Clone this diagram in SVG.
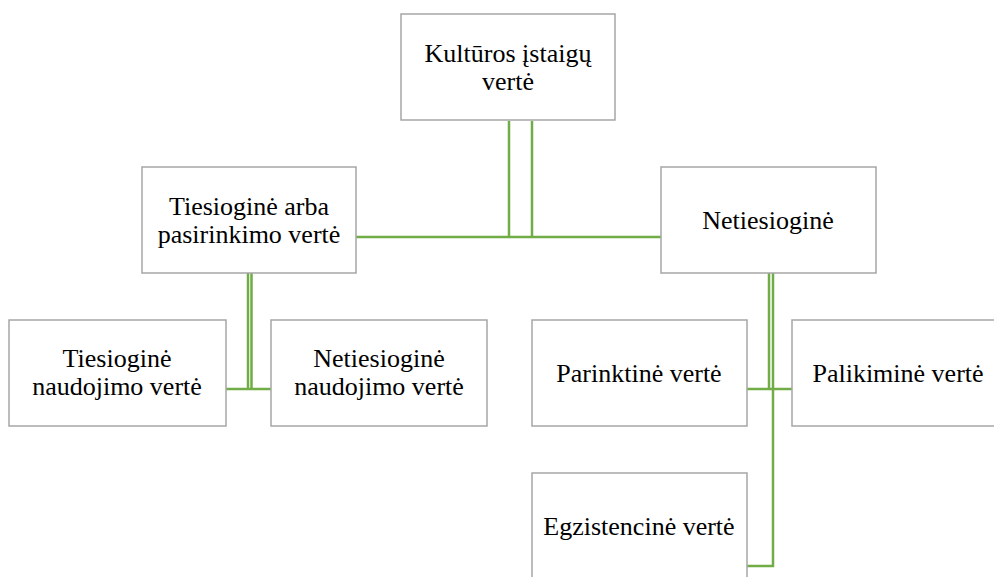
<svg xmlns="http://www.w3.org/2000/svg" width="994" height="577" viewBox="0 0 994 577">
<style>
.box{fill:#fff;stroke:#a6a6a6;stroke-width:1.5}
.t{font-family:"Liberation Serif","Times New Roman",serif;font-size:26px;fill:#000;text-anchor:middle}
.c{fill:none;stroke:#70ad47;stroke-width:2.5}
</style>
<rect width="994" height="577" fill="#fff"/>
<g id="connectors">
<path class="c" d="M509 121V237M532 121V237M356 237H661"/>
<path class="c" d="M248 273V389M251.5 273V389M226 389H271"/>
<path class="c" d="M769 273V389M773 273V566H747M747 389H792"/>
</g>
<g id="n-top"><rect class="box" x="401" y="14" width="214" height="106"/><text class="t" x="508" y="62">Kultūros įstaigų</text><text class="t" x="508" y="90">vertė</text></g>
<g id="n-tiesiogine"><rect class="box" x="142" y="167" width="214" height="106"/><text class="t" x="249" y="215">Tiesioginė arba</text><text class="t" x="249" y="243">pasirinkimo vertė</text></g>
<g id="n-netiesiogine"><rect class="box" x="661" y="167" width="215" height="106"/><text class="t" x="768" y="229">Netiesioginė</text></g>
<g id="n-tnv"><rect class="box" x="9" y="320" width="217" height="106"/><text class="t" x="117" y="367">Tiesioginė</text><text class="t" x="117" y="395">naudojimo vertė</text></g>
<g id="n-nnv"><rect class="box" x="271" y="320" width="216" height="106"/><text class="t" x="379" y="367">Netiesioginė</text><text class="t" x="379" y="395">naudojimo vertė</text></g>
<g id="n-parinktine"><rect class="box" x="532" y="320" width="215" height="106"/><text class="t" x="639" y="382">Parinktinė vertė</text></g>
<g id="n-palikimine"><rect class="box" x="792" y="320" width="215" height="106"/><text class="t" x="898" y="382">Palikiminė vertė</text></g>
<g id="n-egzistencine"><rect class="box" x="532" y="473" width="215" height="110"/><text class="t" x="639" y="535">Egzistencinė vertė</text></g>
</svg>
